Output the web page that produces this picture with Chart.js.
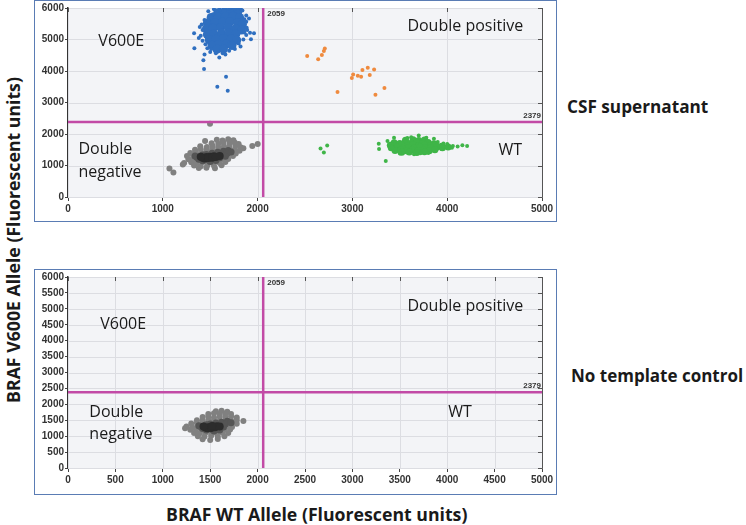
<!DOCTYPE html>
<html>
<head>
<meta charset="utf-8">
<script src="https://cdn.jsdelivr.net/npm/chart.js@4.4.0/dist/chart.umd.min.js"></script>
<style>
body { margin: 0; width: 746px; height: 525px; position: relative; background: #fff; overflow: hidden; font-family: "Open Sans", sans-serif; }
.panel { position: absolute; left: 34px; width: 521px; border: 1px solid #5a7cb4; background: #fff; }
#top-panel { top: 0; height: 220px; }
#bottom-panel { top: 269px; height: 224px; }
.side { position: absolute; font-weight: bold; color: #1a1a1a; white-space: nowrap; transform: translateY(-50%); line-height: 1; }
#ytitle { position: absolute; left: 14px; top: 240px; transform: translate(-50%, -50%) rotate(-90deg); font-weight: bold; font-size: 17.7px; color: #1a1a1a; white-space: nowrap; line-height: 1; }
</style>
</head>
<body>
<div class="panel" id="top-panel"><canvas id="top-chart"></canvas></div>
<div class="panel" id="bottom-panel"><canvas id="bottom-chart"></canvas></div>
<div class="side" style="left:567px; top:107px; font-size:17.2px;">CSF supernatant</div>
<div class="side" style="left:571px; top:375px; font-size:17px;">No template control</div>
<div class="side" style="left:166px; top:515px; font-size:17.7px;">BRAF WT Allele (Fluorescent units)</div>
<div id="ytitle">BRAF V600E Allele (Fluorescent units)</div>

<script>
// thresholds
const thresholdWT = 2059;
const thresholdV600E = 2379;

// CSF supernatant: V600E droplets (blue)
const topV600E = [
    [1700, 5980], [1760, 5970], [1822, 5985], [1840, 5920], [1600, 5950], [1530, 5800], [1880, 5760],
    [1909, 5669], [1440, 5620], [1410, 5480], [1880, 5560], [1420, 5300], [1885, 5373], [1890, 5300],
    [1330, 5200], [1920, 5215], [1962, 5196], [1400, 5120], [1880, 5140], [1930, 5007], [1420, 4960],
    [1850, 5000], [1450, 4850], [1800, 4870], [1333, 4723], [1470, 4720], [1760, 4700], [1500, 4600],
    [1700, 4640], [1596, 4427], [1632, 4565], [1428, 4344], [1435, 4060], [1667, 3817], [1575, 3502],
    [1685, 3376], [1470, 5080], [1510, 4700], [1860, 5220], [1560, 4560], [1660, 4520], [1380, 5050],
    [1480, 5900], [1540, 5960], [1650, 6000], [1860, 5640], [1820, 4780], [1390, 5400], [1440, 4520]
];
const topV600ECore = [
    [1580, 5850], [1650, 5880], [1720, 5900], [1790, 5870],
    [1510, 5700], [1580, 5720], [1660, 5730], [1740, 5740], [1810, 5700],
    [1470, 5520], [1550, 5540], [1630, 5560], [1710, 5560], [1790, 5530], [1840, 5480],
    [1460, 5340], [1530, 5360], [1610, 5380], [1690, 5380], [1770, 5350], [1830, 5300],
    [1470, 5160], [1540, 5180], [1620, 5200], [1700, 5200], [1770, 5170],
    [1490, 4990], [1560, 5010], [1640, 5030], [1720, 5020], [1780, 4980],
    [1520, 4820], [1590, 4840], [1670, 4850], [1730, 4810],
    [1570, 4690], [1640, 4700]
];

// CSF supernatant: double positive droplets (orange)
const topDouble = [
    [2523, 4480], [2639, 4376], [2678, 4511], [2699, 4638], [2709, 4711], [2843, 3335],
    [2994, 3776], [3008, 3890], [3057, 3849], [3092, 3818], [3106, 4029], [3162, 4101],
    [3183, 3871], [3229, 4048], [3243, 3250], [3338, 3461]
];

// CSF supernatant: WT droplets (green)
const topWT = [
    [2664, 1536], [2699, 1410], [2734, 1631], [3278, 1694], [3281, 1524], [3352, 1145], [3370, 1776],
    [3439, 1883], [3620, 1900], [3700, 1950], [3780, 1880], [3580, 1870], [4060, 1620], [4110, 1600],
    [4160, 1640], [4210, 1620], [4050, 1560], [3900, 1750], [3960, 1700], [3500, 1380], [3650, 1360],
    [3800, 1400], [3420, 1580], [4000, 1680], [3860, 1850], [3940, 1520], [3720, 1390], [3990, 1600]
];
const topWTCore = [
    [3560, 1800], [3640, 1820], [3700, 1790], [3760, 1810],
    [3440, 1720], [3500, 1700], [3560, 1730], [3620, 1710], [3680, 1740], [3740, 1700], [3800, 1730], [3860, 1690],
    [3400, 1640], [3460, 1620], [3520, 1650], [3580, 1630], [3640, 1660], [3700, 1620], [3760, 1650], [3820, 1630], [3880, 1640], [3940, 1610],
    [3410, 1560], [3470, 1580], [3530, 1550], [3590, 1570], [3650, 1550], [3710, 1580], [3770, 1560], [3830, 1570], [3890, 1580], [3950, 1560], [4010, 1590],
    [3450, 1480], [3510, 1500], [3570, 1470], [3630, 1490], [3690, 1480], [3750, 1500], [3810, 1470], [3870, 1500],
    [3520, 1420], [3600, 1430], [3680, 1410], [3760, 1440]
];

// CSF supernatant: double negative droplets (gray)
const topNeg = [
    [1570, 1820], [1630, 1790], [1690, 1830], [1745, 1800],
    [1446, 1777], [1515, 1710], [1585, 1690], [1640, 1730], [1705, 1700], [1760, 1720], [1800, 1680],
    [1395, 1610], [1465, 1590], [1525, 1620], [1585, 1580], [1645, 1610], [1700, 1590], [1765, 1620], [1820, 1580],
    [1340, 1500], [1400, 1520], [1460, 1490], [1520, 1510], [1580, 1480], [1640, 1520], [1700, 1490], [1760, 1510], [1810, 1470],
    [1290, 1400], [1350, 1420], [1410, 1390], [1470, 1410], [1530, 1380], [1590, 1420], [1650, 1390], [1710, 1410], [1770, 1380],
    [1255, 1300], [1320, 1280], [1380, 1310], [1440, 1290], [1500, 1320], [1560, 1280], [1620, 1310], [1680, 1290], [1740, 1300],
    [1270, 1200], [1330, 1180], [1390, 1210], [1450, 1190], [1510, 1220], [1570, 1180], [1630, 1200], [1690, 1210],
    [1300, 1100], [1360, 1080], [1420, 1110], [1480, 1090], [1540, 1100], [1600, 1080], [1660, 1110],
    [1330, 1000], [1400, 980], [1470, 1010], [1540, 990], [1620, 1010],
    [1380, 920], [1460, 930], [1550, 915],
    [1070, 905], [1112, 779], [1211, 1032], [1225, 1080], [1944, 1619], [2001, 1682], [1498, 2325], [1850, 1550]
];
const topNegMid = [
    [1360, 1260], [1410, 1300], [1460, 1350], [1520, 1390], [1580, 1420], [1640, 1450], [1690, 1480],
    [1380, 1200], [1440, 1230], [1500, 1270], [1560, 1310], [1620, 1350], [1680, 1390],
    [1420, 1150], [1480, 1180], [1540, 1220], [1600, 1250], [1660, 1290],
    [1500, 1130], [1560, 1160], [1340, 1300], [1420, 1330], [1720, 1430]
];
const topNegCore = [
    [1420, 1250], [1460, 1270], [1500, 1280], [1540, 1290], [1440, 1220],
    [1480, 1240], [1520, 1250], [1560, 1270], [1600, 1300], [1400, 1280]
];

// No template control: double negative droplets only
const bottomNeg = [
    [1560, 1780], [1620, 1800], [1680, 1770],
    [1480, 1700], [1540, 1720], [1600, 1690], [1660, 1710], [1720, 1700],
    [1420, 1600], [1480, 1620], [1540, 1590], [1600, 1610], [1660, 1600], [1720, 1620], [1780, 1590],
    [1360, 1500], [1420, 1490], [1480, 1510], [1540, 1500], [1600, 1480], [1660, 1510], [1720, 1490], [1780, 1500], [1850, 1479],
    [1300, 1400], [1360, 1410], [1420, 1390], [1480, 1400], [1540, 1420], [1600, 1390], [1660, 1400], [1720, 1410], [1780, 1390],
    [1250, 1300], [1310, 1290], [1370, 1310], [1430, 1300], [1490, 1280], [1550, 1310], [1610, 1290], [1670, 1300], [1730, 1290],
    [1290, 1200], [1350, 1210], [1410, 1190], [1470, 1200], [1530, 1220], [1590, 1190], [1650, 1200], [1710, 1210],
    [1330, 1100], [1390, 1090], [1450, 1110], [1510, 1100], [1570, 1080], [1630, 1110], [1690, 1100],
    [1370, 1000], [1440, 990], [1510, 1010], [1580, 990], [1650, 1000],
    [1420, 900], [1500, 880], [1580, 910], [1235, 1249]
];
const bottomNegMid = [
    [1400, 1300], [1450, 1340], [1500, 1380], [1560, 1410], [1620, 1440], [1680, 1470],
    [1420, 1240], [1480, 1270], [1540, 1300], [1600, 1340], [1660, 1380], [1720, 1420],
    [1460, 1190], [1520, 1210], [1580, 1250], [1640, 1290], [1380, 1330],
    [1540, 1160], [1600, 1190], [1460, 1360]
];
const bottomNegCore = [
    [1450, 1270], [1490, 1290], [1530, 1300], [1570, 1310], [1470, 1250],
    [1510, 1260], [1550, 1280], [1600, 1300], [1430, 1300], [1520, 1320]
];

// quadrant label placements (data units)
const topLabels = [
    { text: "V600E", x: 320, y: 4950 },
    { text: "Double positive", x: 3580, y: 5400 },
    { text: "Double", x: 110, y: 1520 },
    { text: "negative", x: 110, y: 780 },
    { text: "WT", x: 4540, y: 1480 }
];
const bottomLabels = [
    { text: "V600E", x: 340, y: 4500 },
    { text: "Double positive", x: 3580, y: 5080 },
    { text: "Double", x: 225, y: 1750 },
    { text: "negative", x: 225, y: 1060 },
    { text: "WT", x: 4010, y: 1750 }
];

const toXY = (arr) => arr.map(([x, y]) => ({ x, y }));

function pts(data, color, r, order) {
    return {
        type: "scatter",
        data: toXY(data),
        backgroundColor: color,
        borderWidth: 0,
        pointRadius: r,
        order: order,
    };
}

function thresholdLines() {
    return [
        {
            type: "line",
            data: [{ x: thresholdWT, y: 0 }, { x: thresholdWT, y: 6000 }],
            borderColor: "#c24aa6",
            borderWidth: 2.5,
            pointRadius: 0,
            order: 0,
        },
        {
            type: "line",
            data: [{ x: 0, y: thresholdV600E }, { x: 5000, y: thresholdV600E }],
            borderColor: "#c24aa6",
            borderWidth: 2.5,
            pointRadius: 0,
            order: 0,
        },
    ];
}

// plot background, inner ticks on right/top, threshold numbers and quadrant names
const ddpcrPlugin = {
    id: "ddpcr",
    beforeDatasetsDraw(chart) {
        const { ctx, chartArea: a } = chart;
        ctx.save();
        ctx.fillStyle = "#f3f4f7";
        ctx.fillRect(a.left, a.top, a.right - a.left, a.bottom - a.top);
        ctx.restore();
        const xs = chart.scales.x, ys = chart.scales.y;
        ctx.save();
        ctx.strokeStyle = "#dcdde2";
        ctx.lineWidth = 1;
        xs.ticks.forEach((t) => {
            const px = Math.round(xs.getPixelForValue(t.value)) + 0.5;
            ctx.beginPath(); ctx.moveTo(px, a.top); ctx.lineTo(px, a.bottom); ctx.stroke();
        });
        ys.ticks.forEach((t) => {
            const py = Math.round(ys.getPixelForValue(t.value)) + 0.5;
            ctx.beginPath(); ctx.moveTo(a.left, py); ctx.lineTo(a.right, py); ctx.stroke();
        });
        ctx.restore();
    },
    afterDraw(chart, args, opts) {
        const { ctx, chartArea: a } = chart;
        const xs = chart.scales.x, ys = chart.scales.y;
        ctx.save();
        ctx.strokeStyle = "#555";
        ctx.lineWidth = 1;
        ctx.beginPath();
        ctx.moveTo(a.right + 0.5, a.top); ctx.lineTo(a.right + 0.5, a.bottom);
        ctx.stroke();
        ys.ticks.forEach((t) => {
            const py = Math.round(ys.getPixelForValue(t.value)) + 0.5;
            ctx.beginPath(); ctx.moveTo(a.right - 4, py); ctx.lineTo(a.right, py); ctx.stroke();
        });
        xs.ticks.forEach((t) => {
            const px = Math.round(xs.getPixelForValue(t.value)) + 0.5;
            ctx.beginPath(); ctx.moveTo(px, a.top); ctx.lineTo(px, a.top + 4); ctx.stroke();
        });

        ctx.fillStyle = "#333";
        ctx.font = "bold 8px 'Liberation Sans Narrow', 'Liberation Sans', sans-serif";
        ctx.textBaseline = "top";
        ctx.textAlign = "left";
        ctx.fillText(String(thresholdWT), xs.getPixelForValue(thresholdWT) + 4, a.top + 2);
        ctx.textAlign = "right";
        ctx.textBaseline = "bottom";
        ctx.fillText(String(thresholdV600E), a.right - 1, ys.getPixelForValue(thresholdV600E) - 2);

        ctx.fillStyle = "#1a1a1a";
        ctx.font = "16px 'Open Sans', sans-serif";
        ctx.textAlign = "left";
        ctx.textBaseline = "middle";
        opts.labels.forEach((l) => {
            ctx.fillText(l.text, xs.getPixelForValue(l.x), ys.getPixelForValue(l.y));
        });
        ctx.restore();
    },
};

function makeChart(id, datasets, step, labels, padTop, xHeight) {
    const tickFont = { family: "'Liberation Sans', sans-serif", size: 10, weight: "bold" };
    return new Chart(document.getElementById(id), {
        data: { datasets: datasets.concat(thresholdLines()) },
        options: {
            responsive: true,
            maintainAspectRatio: false,
            animation: false,
            layout: { padding: { top: padTop, right: 14, left: 0, bottom: 0 } },
            plugins: {
                legend: { display: false },
                tooltip: { enabled: false },
                ddpcr: { labels: labels },
            },
            scales: {
                x: {
                    type: "linear",
                    min: 0,
                    max: 5000,
                    ticks: { stepSize: step, color: "#333", font: tickFont, padding: 2, maxRotation: 0, callback: (v) => String(v) },
                    grid: { display: true, drawOnChartArea: false, color: "#444", tickLength: 4 },
                    border: { color: "#333", width: 1.5 },
                    afterFit: (s) => { s.height = xHeight; },
                },
                y: {
                    type: "linear",
                    min: 0,
                    max: 6000,
                    ticks: { stepSize: step, color: "#333", font: tickFont, padding: 1, callback: (v) => String(v) },
                    grid: { display: true, drawOnChartArea: false, color: "#444", tickLength: 3 },
                    border: { color: "#333", width: 1.5 },
                    afterFit: (s) => { s.width = 33; },
                },
            },
        },
        plugins: [ddpcrPlugin],
    });
}

makeChart("top-chart", [
    pts(topV600E, "#2f6fc0", 2, 2),
    pts(topV600ECore, "#2f6fc0", 4.5, 2),
    pts(topDouble, "#ef8a3e", 2, 2),
    pts(topWT, "#3fb548", 2, 2),
    pts(topWTCore, "#3fb548", 3.5, 2),
    pts(topNeg, "#808080", 3, 3),
    pts(topNegMid, "#555555", 3.5, 2),
    pts(topNegCore, "#2c2c2c", 4, 1),
], 1000, topLabels, 6, 24);

makeChart("bottom-chart", [
    pts(bottomNeg, "#808080", 3, 3),
    pts(bottomNegMid, "#555555", 3.5, 2),
    pts(bottomNegCore, "#2c2c2c", 4, 1),
], 500, bottomLabels, 7, 26);
</script>
</body>
</html>
